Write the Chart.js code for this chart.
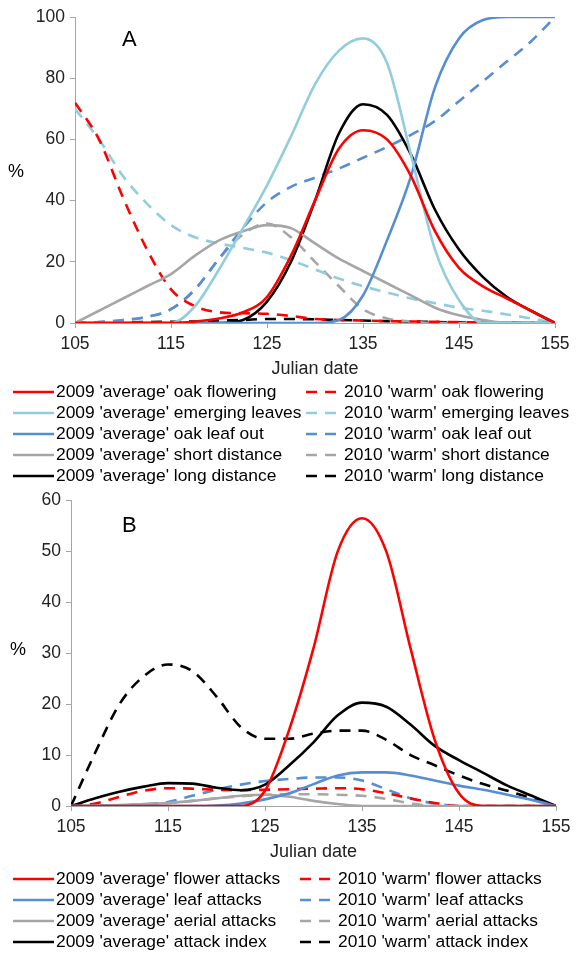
<!DOCTYPE html>
<html>
<head>
<meta charset="utf-8">
<script src="https://cdn.jsdelivr.net/npm/chart.js@4.4.1/dist/chart.umd.min.js"></script>
<style>
  html, body { margin: 0; padding: 0; background: #fff; }
  body { width: 583px; height: 953px; position: relative; overflow: hidden; }
  .box { position: absolute; left: 0; width: 583px; }
  #boxA { top: 0; height: 490px; }
  #boxB { top: 485px; height: 468px; }
</style>
</head>
<body>
<div class="box" id="boxA"><canvas id="chartA"></canvas></div>
<div class="box" id="boxB"><canvas id="chartB"></canvas></div>
<script>
// Julian dates (x values shared by every series)
const days = [105, 107.5, 110, 112.5, 115, 117.5, 120, 122.5, 125, 127.5, 130,
              132.5, 135, 137.5, 140, 142.5, 145, 147.5, 150, 152.5, 155];
const xTicks = [105, 115, 125, 135, 145, 155];

// Panel A (%)
const flowering2009 = [0, 0, 0, 0, 0, 0.5, 1.5, 3.5, 8.5, 22, 40, 57, 63, 60, 48, 30, 18, 12, 8, 4, 0];
const emerging2009  = [0, 0, 0, 0, 0, 5.5, 17.5, 31, 45, 61, 78, 89, 93, 85, 55, 24, 7.5, 0, 0, 0, 0];
const leafOut2009   = [0, 0, 0, 0, 0, 0, 0, 0, 0, 0, 0, 1, 9, 27, 48, 77, 93, 99, 100, 100, 100];
const short2009     = [0, 4, 8, 12, 16, 22, 27, 30, 32, 31, 26, 21, 17, 13, 9, 5, 2.5, 1, 0, 0, 0];
const long2009      = [0, 0, 0, 0, 0, 0, 0, 1, 7, 20, 40, 62, 71.5, 68, 55, 37, 24, 15, 8.5, 4, 0];
const flowering2010 = [72, 60, 41, 24, 11, 5.5, 3.5, 3.2, 3, 2.3, 1.3, 1, 0.8, 0.6, 0.5, 0.4, 0.3, 0.2, 0.1, 0.05, 0];
const emerging2010  = [70, 60, 48, 39, 32, 28, 26, 24.5, 23, 20.5, 17.5, 14.5, 12, 10, 8, 6.5, 5, 4, 2.8, 1.5, 0];
const leafOut2010   = [0, 0.3, 1, 2, 4.5, 11, 21, 31, 39.5, 44.5, 47.5, 50.5, 54, 57.5, 61.5, 66, 72.5, 79, 85.5, 92, 100];
const short2010     = [0, 0.3, 0.8, 2, 4.5, 11, 21, 29, 32.5, 28, 20, 12, 4.5, 1.5, 0.5, 0, 0, 0, 0, 0, 0];
const long2010      = [0, 0.1, 0.2, 0.3, 0.4, 0.5, 0.8, 1, 1.3, 1.3, 1.2, 1, 0.8, 0.6, 0.5, 0.3, 0.2, 0.1, 0.1, 0, 0];

// Panel B (%)
const flowerAtt2009 = [0, 0, 0, 0, 0, 0, 0, 0, 3, 15, 31, 50, 56.5, 50, 31, 13, 2.5, 0, 0, 0, 0];
const leafAtt2009   = [0, 0, 0, 0, 0, 0, 0.1, 0.5, 1.3, 2.5, 4.3, 6, 6.6, 6.6, 6, 5, 4, 3.2, 2.2, 1.2, 0];
const aerialAtt2009 = [0, 0.1, 0.2, 0.4, 0.6, 1, 1.5, 2, 2.2, 1.8, 1, 0.4, 0, 0, 0, 0, 0, 0, 0, 0, 0];
const index2009     = [0, 1.5, 2.8, 3.8, 4.5, 4.4, 3.6, 3.1, 4.2, 8, 12.5, 17.8, 20.3, 19.5, 16, 11.8, 9, 6.5, 4, 2, 0];
const flowerAtt2010 = [0, 0.5, 1.8, 3, 3.5, 3.4, 3.2, 3.1, 3.2, 3.3, 3.4, 3.5, 3.3, 2.5, 1.5, 0.6, 0, 0, 0, 0, 0];
const leafAtt2010   = [0, 0, 0.1, 0.3, 0.8, 2, 3.2, 4.2, 4.9, 5.3, 5.6, 5.6, 5, 3.3, 1.5, 0.5, 0, 0, 0, 0, 0];
const aerialAtt2010 = [0, 0, 0.1, 0.3, 0.6, 1, 1.5, 1.9, 2.2, 2.3, 2.3, 2.2, 2, 1.4, 0.5, 0, 0, 0, 0, 0, 0];
const index2010     = [0, 10.5, 20, 25.5, 27.8, 26.5, 21.5, 15.5, 13.2, 13.2, 14.2, 14.8, 14.8, 13, 10, 8, 6, 4.3, 3, 1.5, 0];

const RED = '#FF0000', AQUA = '#93CDDD', BLUE = '#558ED5', GREY = '#A6A6A6', BLACK = '#000000';
const FONT = "'Liberation Sans', Arial, sans-serif";
const DASH = [11, 8];

function series(label, values, color, dashed) {
    return {
        label: label,
        data: values.map((v, i) => ({ x: days[i], y: v })),
        borderColor: color,
        backgroundColor: color,
        borderWidth: 2.6,
        borderDash: dashed ? DASH : [],
        pointRadius: 0,
        fill: false,
        cubicInterpolationMode: 'monotone'
    };
}

// legend in two columns: first half solid (2009), second half dashed (2010)
const pairLegend = {
    id: 'pairLegend',
    afterDraw(chart, args, opts) {
        const ctx = chart.ctx;
        const sets = chart.data.datasets;
        const rows = sets.length / 2;
        ctx.save();
        ctx.font = opts.font;
        ctx.textBaseline = 'middle';
        sets.forEach((ds, i) => {
            const col = i < rows ? 0 : 1;
            const y = opts.top + (i % rows) * opts.step;
            const x = opts.colX[col];
            const w = opts.sample[col];
            ctx.strokeStyle = ds.borderColor;
            ctx.lineWidth = ds.borderWidth;
            ctx.setLineDash(ds.borderDash);
            ctx.beginPath();
            ctx.moveTo(x, y);
            ctx.lineTo(x + w, y);
            ctx.stroke();
            ctx.setLineDash([]);
            ctx.fillStyle = '#000';
            ctx.fillText(ds.label, x + w + 2, y);
        });
        ctx.restore();
    }
};

// panel letter and the horizontal "%" axis label
const panelText = {
    id: 'panelText',
    afterDraw(chart, args, opts) {
        const ctx = chart.ctx;
        ctx.save();
        ctx.fillStyle = '#000';
        ctx.textBaseline = 'middle';
        ctx.textAlign = 'left';
        ctx.font = '22px ' + FONT;
        ctx.fillText(opts.letter, opts.letterX, opts.letterY);
        ctx.font = '18px ' + FONT;
        ctx.fillText('%', opts.pctX, opts.pctY);
        ctx.restore();
    }
};

function makeChart(id, datasets, yMax, yStep, cfg) {
    return new Chart(document.getElementById(id), {
        type: 'line',
        data: { datasets: datasets },
        plugins: [pairLegend, panelText],
        options: {
            responsive: true,
            maintainAspectRatio: false,
            animation: false,
            layout: { padding: { top: cfg.top, right: cfg.right, bottom: cfg.bottom, left: 0 } },
            plugins: {
                legend: { display: false },
                tooltip: { enabled: false },
                pairLegend: { font: '17.4px ' + FONT, top: cfg.legendTop, step: cfg.legendStep,
                              colX: [13, cfg.col2], sample: [41, 36] },
                panelText: cfg.text
            },
            scales: {
                x: {
                    type: 'linear',
                    min: 105,
                    max: 155,
                    afterFit: s => { s.height = 57; },
                    afterBuildTicks: s => { s.ticks = xTicks.map(v => ({ value: v })); },
                    grid: { drawOnChartArea: false, drawTicks: true, tickLength: 5, color: GREY },
                    border: { color: GREY, width: 1 },
                    ticks: { color: '#222', font: { family: FONT, size: 17.5 }, padding: 6, maxRotation: 0 },
                    title: { display: true, text: 'Julian date', color: '#222', font: { family: FONT, size: 18 }, padding: 0 }
                },
                y: {
                    min: 0,
                    max: yMax,
                    afterFit: s => { s.width = cfg.left; },
                    grid: { drawOnChartArea: false, drawTicks: true, tickLength: 5, color: GREY },
                    border: { color: GREY, width: 1 },
                    ticks: { stepSize: yStep, color: '#222', font: { family: FONT, size: 17.5 }, padding: 5 }
                }
            }
        }
    });
}

makeChart('chartA', [
    series("2009 'average' oak flowering", flowering2009, RED, false),
    series("2009 'average' emerging leaves", emerging2009, AQUA, false),
    series("2009 'average' oak leaf out", leafOut2009, BLUE, false),
    series("2009 'average' short distance", short2009, GREY, false),
    series("2009 'average' long distance", long2009, BLACK, false),
    series("2010 'warm' oak flowering", flowering2010, RED, true),
    series("2010 'warm' emerging leaves", emerging2010, AQUA, true),
    series("2010 'warm' oak leaf out", leafOut2010, BLUE, true),
    series("2010 'warm' short distance", short2010, GREY, true),
    series("2010 'warm' long distance", long2010, BLACK, true)
], 100, 20, {
    top: 17, right: 28, bottom: 110, left: 75, legendTop: 392, legendStep: 21, col2: 306,
    text: { letter: 'A', letterX: 122, letterY: 40, pctX: 8, pctY: 172 }
});

makeChart('chartB', [
    series("2009 'average' flower attacks", flowerAtt2009, RED, false),
    series("2009 'average' leaf attacks", leafAtt2009, BLUE, false),
    series("2009 'average' aerial attacks", aerialAtt2009, GREY, false),
    series("2009 'average' attack index", index2009, BLACK, false),
    series("2010 'warm' flower attacks", flowerAtt2010, RED, true),
    series("2010 'warm' leaf attacks", leafAtt2010, BLUE, true),
    series("2010 'warm' aerial attacks", aerialAtt2010, GREY, true),
    series("2010 'warm' attack index", index2010, BLACK, true)
], 60, 10, {
    top: 14, right: 27, bottom: 90, left: 71, legendTop: 394, legendStep: 21, col2: 300,
    text: { letter: 'B', letterX: 122, letterY: 41, pctX: 10, pctY: 165 }
});
</script>
</body>
</html>
